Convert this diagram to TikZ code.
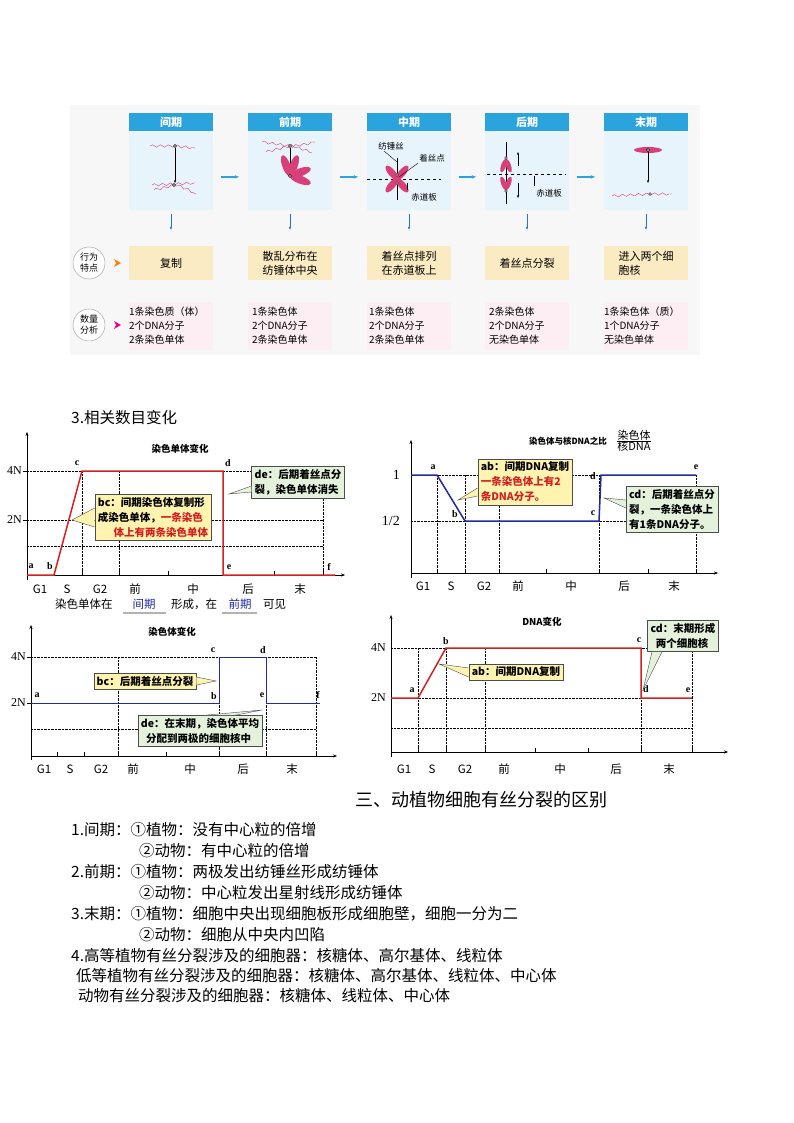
\documentclass[tikz,border=0pt]{standalone}
\usepackage{fontspec}
\setmainfont{Liberation Serif}
\newfontfamily\cjk{Noto Sans CJK SC}
\usetikzlibrary{arrows.meta,decorations.pathmorphing}
\definecolor{hdr}{HTML}{2BA3DC}
\definecolor{pan}{HTML}{E8F4FB}
\definecolor{yel}{HTML}{FBEBC3}
\definecolor{pnk}{HTML}{FCEEF3}
\definecolor{chr}{HTML}{D9407A}
\definecolor{cy}{HTML}{FFF3B0}
\definecolor{cg}{HTML}{E4F2DC}
\definecolor{rl}{HTML}{D42020}
\definecolor{bl}{HTML}{1F2A9E}
\begin{document}
\begin{tikzpicture}[x=1pt,y=-1pt,
 every node/.style={font=\cjk\fontsize{11}{14}\selectfont,inner sep=1pt},
 hd/.style={fill=hdr,text=white,minimum width=84pt,minimum height=18pt,font=\cjk\bfseries\fontsize{11}{12}\selectfont},
 pn/.style={fill=pan,minimum width=84pt,minimum height=79pt},
 yb/.style={fill=yel,minimum width=84pt,minimum height=34pt,align=left},
 pb/.style={fill=pnk,minimum width=84pt,minimum height=48pt,align=left,text width=84pt,inner sep=0pt,font=\cjk\fontsize{10}{14}\selectfont},
 dn/.style={-{Latex[length=3pt]},hdr!70!blue,thin},
 ra/.style={-{Latex[length=5pt]},hdr,line width=1.5pt},
 wv/.style={chr,thin,decorate,decoration={snake,amplitude=1.2pt,segment length=8pt}},
 ax/.style={-{Stealth[length=4pt]},thin},
 dt/.style={densely dotted,thin},
 co/.style={draw=black!70,thin,align=left,font=\cjk\bfseries\fontsize{10.5}{15}\selectfont,inner sep=3pt},
 tk/.style={font=\fontsize{12}{12}\selectfont},
 ck/.style={font=\cjk\fontsize{11.5}{13}\selectfont},
 tl/.style={font=\cjk\bfseries\fontsize{9.5}{11}\selectfont},
 pl/.style={font=\bfseries\fontsize{10}{10}\selectfont},
 bt/.style={anchor=west,font=\cjk\fontsize{15.5}{17}\selectfont}]
\useasboundingbox (0,0) rectangle (794,1123);
\fill[black!3] (70,105) rectangle (700,355);
% ---- top panels
\foreach \x/\t/\n in {171/间期/h1,290/前期/h2,409/中期/h3,527/后期/h4,646/末期/h5}{
 \node[hd] (\n) at (\x,122) {\t};
 \node[pn,anchor=north] (\n p) at (\n.south) {};
 \draw[dn] (\x,214) -- (\x,230);
}
\foreach \a/\b in {h1p/h2p,h2p/h3p,h3p/h4p,h4p/h5p}{\draw[ra] ([xshift=8pt,yshift=-6pt]\a.east) -- ([xshift=-8pt,yshift=-6pt]\b.west);}
\node[yb] (y1) at (171,263) {复制};
\node[yb] (y2) at (290,263) {散乱分布在\\纺锤体中央};
\node[yb] (y3) at (409,263) {着丝点排列\\在赤道板上};
\node[yb] (y4) at (527,263) {着丝点分裂};
\node[yb] (y5) at (646,263) {进入两个细\\胞核};
\node[pb] (p1) at (171,326) {1条染色质（体）\\2个DNA分子\\2条染色单体};
\node[pb] (p2) at (290,326) {\hspace*{4pt}1条染色体\\\hspace*{4pt}2个DNA分子\\\hspace*{4pt}2条染色单体};
\node[pb] (p3) at (409,326) {\hspace*{2pt}1条染色体\\\hspace*{2pt}2个DNA分子\\\hspace*{2pt}2条染色单体};
\node[pb] (p4) at (527,326) {\hspace*{4pt}2条染色体\\\hspace*{4pt}2个DNA分子\\\hspace*{4pt}无染色单体};
\node[pb] (p5) at (646,326) {1条染色体（质）\\1个DNA分子\\无染色单体};
\node[circle,draw=black!40,fill=white,minimum size=32pt,align=center,font=\cjk\fontsize{9}{11}\selectfont] (c1) at (89,263) {行为\\特点};
\node[circle,draw=black!40,fill=white,minimum size=32pt,align=center,font=\cjk\fontsize{9}{11}\selectfont] (c2) at (89,325) {数量\\分析};
\fill[orange] (114,259) -- (121,263) -- (114,267) -- (116,263) -- cycle;
\fill[magenta] (114,321) -- (121,325) -- (114,329) -- (116,325) -- cycle;
% chromosome sketches
\draw[wv] (150,146) -- (175,146); \draw[wv] (175,146) -- (195,148);
\draw[-{Stealth[length=3pt]}] (175,148) -- (175,183);
\draw[wv] (152,185) -- (195,183); \draw[wv] (154,190) -- (175,185) -- (196,194);
\draw[fill=white] (175,146) circle (1.5); \draw[fill=white] (174,185) circle (1.5);
\draw[wv] (262,142) -- (290,146) -- (315,142); \draw[wv] (266,152) -- (290,146) -- (312,153);
\draw[fill=white] (290,146) circle (1.5);
\draw[-{Stealth[length=3pt]}] (290,148) -- (290,170);
\foreach \r in {-20,20,70,110}{\fill[chr,rotate around={\r:(290,176)}] (301,176) ellipse (11pt and 4pt);}
\draw[fill=white] (290,176) circle (1.5);
\draw (397,158) -- (397,200);
\draw[dashed] (367,179) -- (441,179);
\foreach \r in {50,130,230,310}{\fill[chr,rotate around={\r:(397,179)}] (405,179) ellipse (9pt and 3.5pt);}
\draw[fill=white] (397,175) circle (1.3); \draw[fill=white] (397,183) circle (1.3);
\node[font=\cjk\fontsize{8.5}{9}\selectfont] (l1) at (391,146) {纺锤丝};
\node[font=\cjk\fontsize{8.5}{9}\selectfont] (l2) at (432,158) {着丝点};
\node[font=\cjk\fontsize{8.5}{9}\selectfont] (l3) at (424,197) {赤道板};
\draw[thin] (384,151) -- (397,162); \draw[thin] (l2.south west) -- (399,177); \draw[thin] (407,183) -- (407,190);
\draw (506,142) -- (506,204); \draw[dashed] (487,174) -- (566,174);
\fill[chr,rotate around={20:(506,159)}] (506,166) ellipse (2.5pt and 7pt); \fill[chr,rotate around={-20:(506,159)}] (506,166) ellipse (2.5pt and 7pt);
\fill[chr,rotate around={-20:(506,190)}] (506,183) ellipse (2.5pt and 7pt); \fill[chr,rotate around={20:(506,190)}] (506,183) ellipse (2.5pt and 7pt);
\draw[fill=white] (506,158) circle (1.3); \draw[fill=white] (506,191) circle (1.3);
\draw[-{Stealth[length=3pt]}] (518,166) -- (518,152); \draw[-{Stealth[length=3pt]}] (518,183) -- (518,198);
\node[font=\cjk\fontsize{8.5}{9}\selectfont] (l4) at (549,193) {赤道板}; \draw[thin] (534,176) -- (534,186);
\fill[chr] (648,150) ellipse (14pt and 3pt);
\draw[fill=white] (648,150) circle (1.5);
\draw[-{Stealth[length=3pt]}] (648,152) -- (648,183);
\draw[wv] (612,196) -- (650,194) -- (672,194);
\draw[fill=white] (650,194) circle (1.3);
% ---- section label
\node[anchor=west,font=\cjk\fontsize{15.5}{16}\selectfont] (s3) at (70,418) {3.相关数目变化};
% ---- chart 1
\draw[ax] (27,580) -- (27,432); \draw[ax] (27,575) -- (345,575);
\foreach \y in {471,520,546}{\draw[dt] (27,\y) -- (323,\y);}
\foreach \x in {82,119,223,323}{\draw[dt] (\x,471) -- (\x,575);}
\foreach \x in {54,82,119,168,223,274,323}{\draw (\x,575) -- (\x,571);}
\draw (23,471) -- (27,471); \draw (23,520) -- (27,520);
\node[tk,anchor=east] at (23,471) {4N}; \node[tk,anchor=east] at (23,520) {2N};
\draw[rl,line width=1.5pt] (27,575) -- (54,575) -- (82,471) -- (223,471) -- (223,575) -- (335,575);
\node[pl] at (31,566) {a}; \node[pl] at (50,566) {b}; \node[pl] at (77,463) {c}; \node[pl] at (228,463) {d}; \node[pl] at (229,567) {e}; \node[pl] at (329,567) {f};
\node[tl] at (180,449) {染色单体变化};
\foreach \x/\t in {40/G1,67/S,100/G2,135/前,193/中,248/后,300/末}{\node[ck] at (\x,589) {\t};}
\node[co,fill=cy] (b1) at (153,517) {bc：间期染色体复制形\\成染色单体，\textcolor{rl}{一条染色}\\\hspace*{1.5em}\textcolor{rl}{体上有两条染色单体}};
\draw[draw=black!70,fill=cy] (b1.west|-0,508) -- (72,520) -- (b1.west|-0,527);
\node[co,fill=cg] (b2) at (298,482) {de：后期着丝点分\\裂，染色单体消失};
\draw[draw=black!70,fill=cg] (b2.west|-0,486) -- (229,494) -- (b2.west|-0,492);
\node[ck,anchor=west] (cp1) at (54,604) {染色单体在};
\node[ck,text=bl] (cp2) at (144,604) {间期};
\node[ck,anchor=west] (cp3) at (170,604) {形成，在};
\node[ck,text=bl] (cp4) at (240,604) {前期};
\node[ck,anchor=west] (cp5) at (262,604) {可见};
\draw[gray!60,line width=1.2pt] (123,613) -- (166,613); \draw[gray!60,line width=1.2pt] (222,613) -- (257,613);
% ---- chart 2
\draw[ax] (411,578) -- (411,440); \draw[ax] (411,573) -- (718,573);
\foreach \y in {475,521}{\draw[dt] (411,\y) -- (696,\y);}
\foreach \x in {437,465,499,599,696}{\draw[dt] (\x,475) -- (\x,573);}
\foreach \x in {437,465,499,546,599,648,696}{\draw (\x,573) -- (\x,569);}
\node[tk,font=\fontsize{14}{14}\selectfont,anchor=east] at (401,475) {1}; \node[tk,font=\fontsize{14}{14}\selectfont,anchor=east] at (401,521) {1/2};
\draw[bl,line width=1.5pt] (411,475) -- (437,475) -- (465,521) -- (599,521) -- (601,475) -- (696,475);
\node[pl] at (433,467) {a}; \node[pl] at (455,514) {b}; \node[pl] at (593,513) {c}; \node[pl] at (593,476) {d}; \node[pl] at (696,467) {e};
\node[tl,font=\cjk\bfseries\fontsize{8.5}{10}\selectfont,anchor=east] at (608,441) {染色体与核DNA之比};
\node[font=\cjk\fontsize{11}{12}\selectfont] at (634,441) {$\frac{\textrm{\cjk 染色体}}{\textrm{\cjk 核DNA}}$};
\foreach \x/\t in {423/G1,451/S,484/G2,518/前,571/中,624/后,674/末}{\node[ck] at (\x,586) {\t};}
\node[co,fill=cy] (b3) at (525,482) {ab：间期DNA复制\\\textcolor{rl}{一条染色体上有2}\\\textcolor{rl}{条DNA分子。}};
\draw[draw=black!70,fill=cy] (b3.west|-0,488) -- (458,500) -- (b3.west|-0,496);
\node[co,fill=cg] (b4) at (672,509) {cd：后期着丝点分\\裂，一条染色体上\\有1条DNA分子。};
\draw[draw=black!70,fill=cg] (b4.west|-0,500) -- (604,498) -- (b4.west|-0,508);
% ---- chart 3
\draw[ax] (31,760) -- (31,625); \draw[ax] (31,756) -- (337,756);
\foreach \y in {657,729}{\draw[dt] (31,\y) -- (316,\y);}
\foreach \x in {118,219,266,316}{\draw[dt] (\x,657) -- (\x,756);}
\foreach \x in {57,84,118,166,219,266,316}{\draw (\x,756) -- (\x,752);}
\draw (27,657) -- (31,657); \draw (27,703) -- (31,703);
\node[tk,anchor=east] at (27,657) {4N}; \node[tk,anchor=east] at (27,703) {2N};
\draw[bl,thick] (31,703) -- (219,703) -- (219,657) -- (266,657) -- (266,703) -- (320,703);
\node[pl] at (37,695) {a}; \node[pl] at (214,696) {b}; \node[pl] at (213,650) {c}; \node[pl] at (263,650) {d}; \node[pl] at (262,695) {e}; \node[pl] at (318,695) {f};
\node[tl] at (172,632) {染色体变化};
\foreach \x/\t in {44/G1,70/S,101/G2,133/前,190/中,243/后,292/末}{\node[ck] at (\x,769) {\t};}
\node[co,fill=cy] (b5) at (145,681) {bc：后期着丝点分裂};
\draw[draw=black!70,fill=cy] (b5.east|-0,677) -- (216,681) -- (b5.east|-0,685);
\node[co,fill=cg] (b6) at (200,731) {de：在末期，染色体平均\\\hspace*{0.5em}分配到两极的细胞核中};
\draw[draw=black!70,fill=cg] (205,0|-b6.north) -- (262,710) -- (235,0|-b6.north);
% ---- chart 4
\draw[ax] (391,757) -- (391,615); \draw[ax] (391,752) -- (728,752);
\foreach \y in {648,698,728}{\draw[dt] (391,\y) -- (692,\y);}
\foreach \x in {418,446,485,641,692}{\draw[dt] (\x,648) -- (\x,752);}
\foreach \x in {418,446,485,535,588,641,692}{\draw (\x,752) -- (\x,748);}
\node[tk,anchor=east] at (387,648) {4N}; \node[tk,anchor=east] at (387,698) {2N};
\draw[rl,line width=1.5pt] (391,698) -- (418,698) -- (446,648) -- (641,648) -- (641,698) -- (692,698);
\node[pl] at (412,690) {a}; \node[pl] at (446,641) {b}; \node[pl] at (646,689) {d}; \node[pl] at (688,690) {e}; \node[pl] at (639,640) {c};
\node[tl] at (542,622) {DNA变化};
\foreach \x/\t in {404/G1,432/S,465/G2,504/前,560/中,616/后,669/末}{\node[ck] at (\x,769) {\t};}
\node[co,fill=cy] (b7) at (516,672) {ab：间期DNA复制};
\draw[draw=black!70,fill=cy] (b7.west|-0,668) -- (439,664) -- (b7.west|-0,677);
\node[co,fill=cg] (b8) at (683,636) {cd：末期形成\\\hspace*{0.5em}两个细胞核};
\draw[draw=black!70,fill=cg] (652,0|-b8.south) -- (643,690) -- (662,0|-b8.south);
% ---- bottom text
\node[anchor=west,font=\cjk\fontsize{18}{20}\selectfont] (h3) at (354,800) {三、动植物细胞有丝分裂的区别};
\node[bt] (t1) at (70,830) {1.间期：①植物：没有中心粒的倍增};
\node[bt] (t2) at (138,851) {②动物：有中心粒的倍增};
\node[bt] (t3) at (70,872) {2.前期：①植物：两极发出纺锤丝形成纺锤体};
\node[bt] (t4) at (138,893) {②动物：中心粒发出星射线形成纺锤体};
\node[bt] (t5) at (70,914) {3.末期：①植物：细胞中央出现细胞板形成细胞壁，细胞一分为二};
\node[bt] (t6) at (138,935) {②动物：细胞从中央内凹陷};
\node[bt] (t7) at (70,956) {4.高等植物有丝分裂涉及的细胞器：核糖体、高尔基体、线粒体};
\node[bt] (t8) at (75,976) {低等植物有丝分裂涉及的细胞器：核糖体、高尔基体、线粒体、中心体};
\node[bt] (t9) at (77,996) {动物有丝分裂涉及的细胞器：核糖体、线粒体、中心体};
\end{tikzpicture}
\end{document}
